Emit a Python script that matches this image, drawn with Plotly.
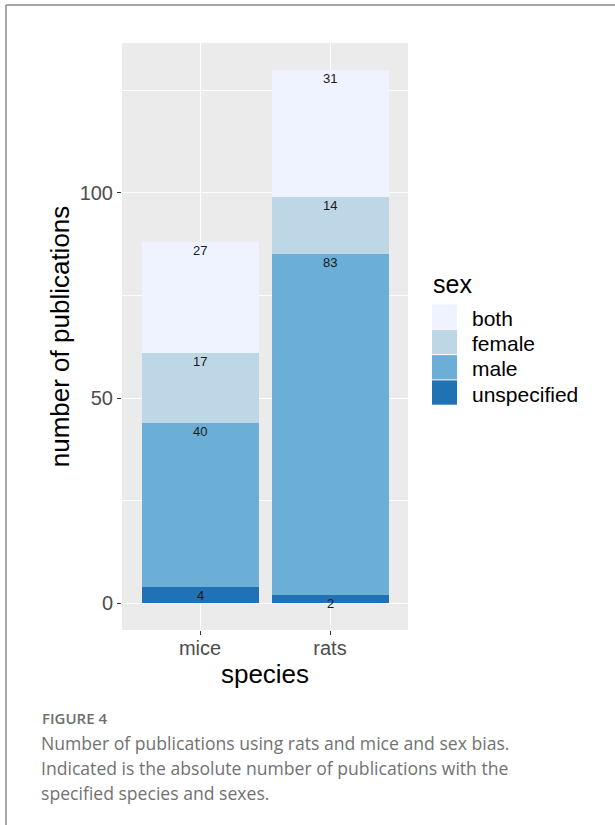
import numpy as np
import plotly.graph_objects as go

# ---- data ----
species = ["mice", "rats"]
sexes = ["unspecified", "male", "female", "both"]          # stacking order (bottom -> top)
values = {
    "unspecified": [4, 2],
    "male": [40, 83],
    "female": [17, 14],
    "both": [27, 31],
}
colors = {
    "both": "#EFF3FF",
    "female": "#BDD7E7",
    "male": "#6BAED6",
    "unspecified": "#2171B5",
}
legend_order = ["both", "female", "male", "unspecified"]
y_ticks = [0, 50, 100]
caption_head = "FIGURE 4"
caption_lines = [
    "Number of publications using rats and mice and sex bias.",
    "Indicated is the absolute number of publications with the",
    "specified species and sexes.",
]

W, H = 615, 825
L, R, T, B = 122, 408, 43, 630   # panel pixel box

def px(x):
    return (x - L) / (R - L)

def py(y):
    return (B - y) / (B - T)

fig = go.Figure()
cum = np.zeros(len(species))
for s in sexes:
    v = np.array(values[s], dtype=float)
    fig.add_trace(go.Bar(
        x=species, y=v, base=cum.copy(), name=s,
        marker=dict(color=colors[s], line=dict(width=0)),
        width=0.9, showlegend=False, hoverinfo="skip",
    ))
    cum = cum + v
    for xi, top, lab in zip(species, cum, values[s]):
        fig.add_annotation(x=xi, y=top, text=str(lab), showarrow=False,
                           xref="x", yref="y", yanchor="top", yshift=1,
                           font=dict(family="Liberation Sans, Arial", size=13, color="#1a1a1a"))

ymax = cum.max()
pad = 0.05 * ymax

shapes = []
annotations = []
# legend (drawn manually to match ggplot key size)
annotations.append(dict(x=px(431), y=py(284), xref="paper", yref="paper", text="sex",
                        showarrow=False, xanchor="left", yanchor="middle",
                        font=dict(family="Liberation Sans, Arial", size=25, color="black")))
key_top = 304
key_h = 25.3
for i, s in enumerate(legend_order):
    y0 = key_top + i * key_h
    shapes.append(dict(type="rect", xref="paper", yref="paper",
                       x0=px(432), x1=px(457), y0=py(y0 + 0.5), y1=py(y0 + key_h - 0.5),
                       fillcolor=colors[s], line=dict(width=0)))
    annotations.append(dict(x=px(470), y=py(y0 + key_h / 2 + 1.5), xref="paper", yref="paper",
                            text=s, showarrow=False, xanchor="left", yanchor="middle",
                            font=dict(family="Liberation Sans, Arial", size=21, color="black")))

# frame
shapes.append(dict(type="line", xref="paper", yref="paper", x0=px(6), x1=px(W + 5),
                   y0=py(5), y1=py(5), line=dict(color="#8a8a8a", width=1.5)))
shapes.append(dict(type="line", xref="paper", yref="paper", x0=px(6), x1=px(6),
                   y0=py(5), y1=py(H + 5), line=dict(color="#8a8a8a", width=1.5)))

# caption
annotations.append(dict(x=px(40), y=py(718), xref="paper", yref="paper", text=caption_head,
                        showarrow=False, xanchor="left", yanchor="middle",
                        font=dict(family="Open Sans", size=15, color="#6e6e6e", weight=600)))
for i, line in enumerate(caption_lines):
    annotations.append(dict(x=px(39), y=py(743 + i * 25), xref="paper", yref="paper", text=line,
                            showarrow=False, xanchor="left", yanchor="middle",
                            font=dict(family="Open Sans", size=17.6, color="#727272")))

for a in annotations:
    fig.add_annotation(**a)

fig.update_layout(
    width=W, height=H,
    margin=dict(l=L, r=W - R, t=T, b=H - B, pad=0),
    paper_bgcolor="white", plot_bgcolor="#EBEBEB",
    barmode="overlay", bargap=0,
    shapes=shapes,
    showlegend=False,
    font=dict(family="Liberation Sans, Arial"),
)
fig.update_xaxes(
    range=[-0.6, len(species) - 0.4], showgrid=True, gridcolor="white", gridwidth=1.4,
    ticks="outside", ticklen=4, tickwidth=1.3, tickcolor="#333333",
    tickfont=dict(size=20, color="#4d4d4d"), zeroline=False, showline=False,
    ticklabelstandoff=-4,
    title=dict(text="species", font=dict(size=26, color="black"), standoff=3),
    fixedrange=True,
)
fig.update_yaxes(
    range=[-pad, ymax + pad], tickvals=y_ticks, showgrid=True, gridcolor="white", gridwidth=1.4,
    minor=dict(dtick=25, tick0=0, showgrid=True, gridcolor="white", gridwidth=0.7, ticklen=0),
    ticks="outside", ticklen=4, tickwidth=1.3, tickcolor="#333333",
    tickfont=dict(size=20, color="#4d4d4d"), zeroline=False, showline=False,
    title=dict(text="number of publications", font=dict(size=26, color="black"), standoff=2),
    fixedrange=True,
)

fig.write_html("out.html", config={"displayModeBar": False},
               post_script="document.body.style.margin='0px';")
